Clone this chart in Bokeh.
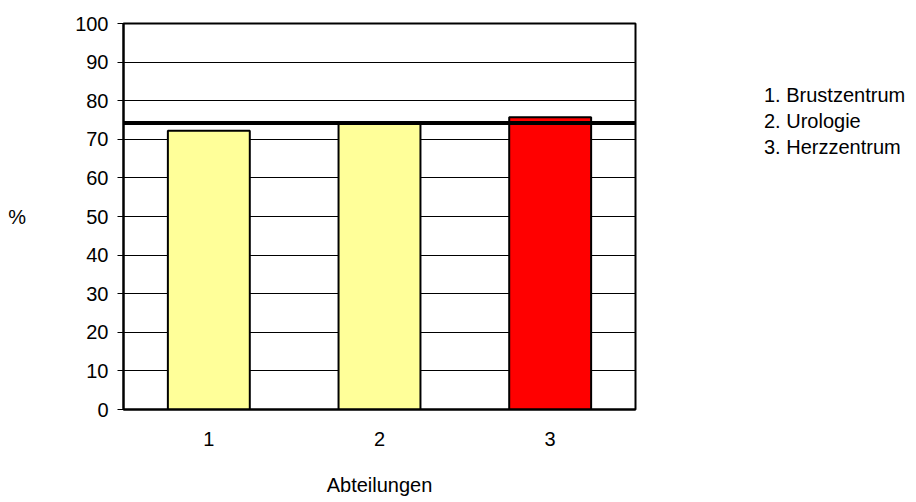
from bokeh.plotting import figure
from bokeh.models import ColumnDataSource, Span, FixedTicker, Legend, LegendItem
from bokeh.layouts import row
from bokeh.embed import file_html
from bokeh.resources import INLINE

# ---- data ----
categories = [1, 2, 3]
departments = ["Brustzentrum", "Urologie", "Herzzentrum"]
values = [72.2, 74.5, 75.7]
bar_colors = ["#FFFF99", "#FFFF99", "#FF0000"]
reference_value = 74.2
y_ticks = [0, 10, 20, 30, 40, 50, 60, 70, 80, 90, 100]

FONT = "Liberation Sans"
FS = "20px"

src = ColumnDataSource(dict(x=categories, top=values, color=bar_colors))

p = figure(width=637, height=502, output_backend="svg", toolbar_location=None,
           x_range=(0.5, 3.5), y_range=(0, 100),
           min_border_left=123, min_border_right=2,
           min_border_top=23, min_border_bottom=93)

p.vbar(x="x", top="top", width=0.48, bottom=0, source=src,
       fill_color="color", line_color="black", line_width=2)

p.add_layout(Span(location=reference_value, dimension="width",
                  line_color="black", line_width=4))

p.outline_line_color = "black"
p.outline_line_width = 2
p.background_fill_color = "white"
p.border_fill_color = "white"

p.xgrid.visible = False
p.ygrid.grid_line_color = "black"
p.ygrid.grid_line_width = 1
p.ygrid.ticker = FixedTicker(ticks=y_ticks)

# y axis
p.yaxis.ticker = FixedTicker(ticks=y_ticks)
p.yaxis.axis_line_color = "black"
p.yaxis.axis_line_width = 2
p.yaxis.major_tick_in = 0
p.yaxis.major_tick_out = 6
p.yaxis.major_tick_line_color = "black"
p.yaxis.minor_tick_line_color = None
p.yaxis.major_label_text_font = FONT
p.yaxis.major_label_text_font_size = FS
p.yaxis.major_label_text_color = "black"
p.yaxis.major_label_standoff = 9
p.yaxis.axis_label = "%"
p.yaxis.axis_label_orientation = "horizontal"
p.yaxis.axis_label_text_font = FONT
p.yaxis.axis_label_text_font_size = FS
p.yaxis.axis_label_text_font_style = "normal"
p.yaxis.axis_label_text_color = "black"
p.yaxis.axis_label_standoff = 46

# x axis
p.xaxis.ticker = FixedTicker(ticks=categories)
p.xaxis.axis_line_color = "black"
p.xaxis.axis_line_width = 2
p.xaxis.major_tick_in = 0
p.xaxis.major_tick_out = 0
p.xaxis.minor_tick_line_color = None
p.xaxis.major_label_text_font = FONT
p.xaxis.major_label_text_font_size = FS
p.xaxis.major_label_text_color = "black"
p.xaxis.major_label_standoff = 22
p.xaxis.axis_label = "Abteilungen"
p.xaxis.axis_label_text_font = FONT
p.xaxis.axis_label_text_font_size = FS
p.xaxis.axis_label_text_font_style = "normal"
p.xaxis.axis_label_text_color = "black"
p.xaxis.axis_label_standoff = 25

# legend panel: numbered list of department names (no glyph icons)
p2 = figure(width=279, height=502, output_backend="svg", toolbar_location=None,
            x_range=(0, 1), y_range=(0, 1), min_border=0)
p2.axis.visible = False
p2.grid.visible = False
p2.outline_line_color = None
p2.background_fill_color = "white"
p2.border_fill_color = "white"
dummy = p2.scatter(x=[], y=[], fill_alpha=0, line_alpha=0)
items = [LegendItem(label=f"{c}. {name}", renderers=[dummy])
         for c, name in zip(categories, departments)]
legend = Legend(items=items, location=(127, 250), glyph_width=0, glyph_height=20,
                label_standoff=0, label_height=20, spacing=3, padding=0, margin=0,
                border_line_color=None, background_fill_alpha=0,
                label_text_font=FONT, label_text_font_size=FS,
                label_text_color="black")
p2.add_layout(legend)

layout = row(p, p2, spacing=0)
open("out.html", "w").write(file_html(layout, INLINE))
